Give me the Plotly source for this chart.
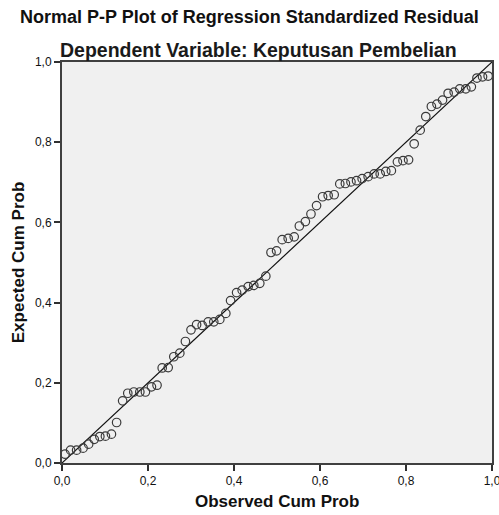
import plotly.graph_objects as go

observed_cum_prob = [0.007, 0.020, 0.034, 0.049, 0.062, 0.075, 0.088, 0.101, 0.115, 0.127,
                     0.141, 0.153, 0.167, 0.181, 0.194, 0.208, 0.221, 0.233, 0.247, 0.260,
                     0.274, 0.287, 0.300, 0.313, 0.326, 0.340, 0.353, 0.367, 0.381, 0.392,
                     0.406, 0.419, 0.433, 0.446, 0.460, 0.474, 0.486, 0.499, 0.512, 0.526,
                     0.540, 0.552, 0.566, 0.579, 0.592, 0.606, 0.619, 0.633, 0.646, 0.659,
                     0.672, 0.685, 0.698, 0.712, 0.726, 0.740, 0.753, 0.766, 0.780, 0.793,
                     0.806, 0.819, 0.833, 0.846, 0.859, 0.872, 0.885, 0.898, 0.912, 0.925,
                     0.939, 0.952, 0.965, 0.978, 0.991]
expected_cum_prob = [0.022, 0.032, 0.032, 0.037, 0.047, 0.059, 0.066, 0.067, 0.072, 0.101,
                     0.155, 0.174, 0.177, 0.177, 0.177, 0.190, 0.194, 0.237, 0.238, 0.265,
                     0.274, 0.303, 0.332, 0.345, 0.343, 0.352, 0.352, 0.358, 0.373, 0.405,
                     0.425, 0.431, 0.440, 0.443, 0.448, 0.466, 0.525, 0.529, 0.557, 0.560,
                     0.564, 0.591, 0.602, 0.621, 0.642, 0.664, 0.667, 0.669, 0.696, 0.697,
                     0.701, 0.704, 0.709, 0.714, 0.721, 0.721, 0.727, 0.729, 0.751, 0.754,
                     0.756, 0.796, 0.830, 0.864, 0.889, 0.895, 0.905, 0.922, 0.925, 0.933,
                     0.933, 0.938, 0.960, 0.963, 0.965]
reference_line = [0.0, 1.0]
tick_values = [0.0, 0.2, 0.4, 0.6, 0.8, 1.0]

title_main = "Normal P-P Plot of Regression Standardized Residual"
title_sub = "Dependent Variable: Keputusan Pembelian"
x_title = "Observed Cum Prob"
y_title = "Expected Cum Prob"

FONT = "Liberation Sans, Arial, sans-serif"

fig = go.Figure()
fig.add_trace(go.Scatter(
    x=reference_line, y=reference_line, mode="lines",
    line=dict(color="#111111", width=1.2), hoverinfo="skip", showlegend=False))
fig.add_trace(go.Scatter(
    x=observed_cum_prob, y=expected_cum_prob, mode="markers",
    marker=dict(symbol="circle-open", size=8.5, color="#3a3a3a", line=dict(width=1.2, color="#3a3a3a")),
    showlegend=False))

axis_common = dict(
    range=[0, 1], tickvals=tick_values, tickformat=".1f", automargin=False,
    ticklabeloverflow="allow",
    showgrid=False, zeroline=False, showline=True, linecolor="#404040", linewidth=2,
    mirror=True, ticks="outside", ticklen=6, tickwidth=2, tickcolor="#303030",
    tickfont=dict(family=FONT, size=12, color="#111111"))

fig.update_xaxes(**axis_common)
fig.update_yaxes(**axis_common)

fig.update_layout(
    width=499, height=515,
    margin=dict(l=62, r=7, t=62, b=52, pad=0, autoexpand=False),
    paper_bgcolor="white", plot_bgcolor="#F0F0F0",
    separators=", ",
    font=dict(family=FONT, color="#111111"),
    annotations=[
        dict(text="<b>" + title_main + "</b>", xref="paper", yref="paper", x=0.435, y=1.112,
             xanchor="center", yanchor="middle", showarrow=False,
             font=dict(family=FONT, size=18, color="#111111")),
        dict(text="<b>" + title_sub + "</b>", xref="paper", yref="paper", x=0.458, y=1.030,
             xanchor="center", yanchor="middle", showarrow=False,
             font=dict(family=FONT, size=19.5, color="#1a1a1a")),
        dict(text="<b>" + x_title + "</b>", xref="paper", yref="paper", x=0.501, y=-0.095,
             xanchor="center", yanchor="middle", showarrow=False,
             font=dict(family=FONT, size=17, color="#111111")),
        dict(text="<b>" + y_title + "</b>", xref="paper", yref="paper", x=-0.102, y=0.501,
             xanchor="center", yanchor="middle", showarrow=False, textangle=-90,
             font=dict(family=FONT, size=17, color="#111111")),
    ],
)

# remove the page's default body margin so the 499x515 figure fills the window exactly
fig.write_html("out.html",
               config={"displayModeBar": False},
               post_script="document.body.style.margin='0';document.body.style.overflow='hidden';")
